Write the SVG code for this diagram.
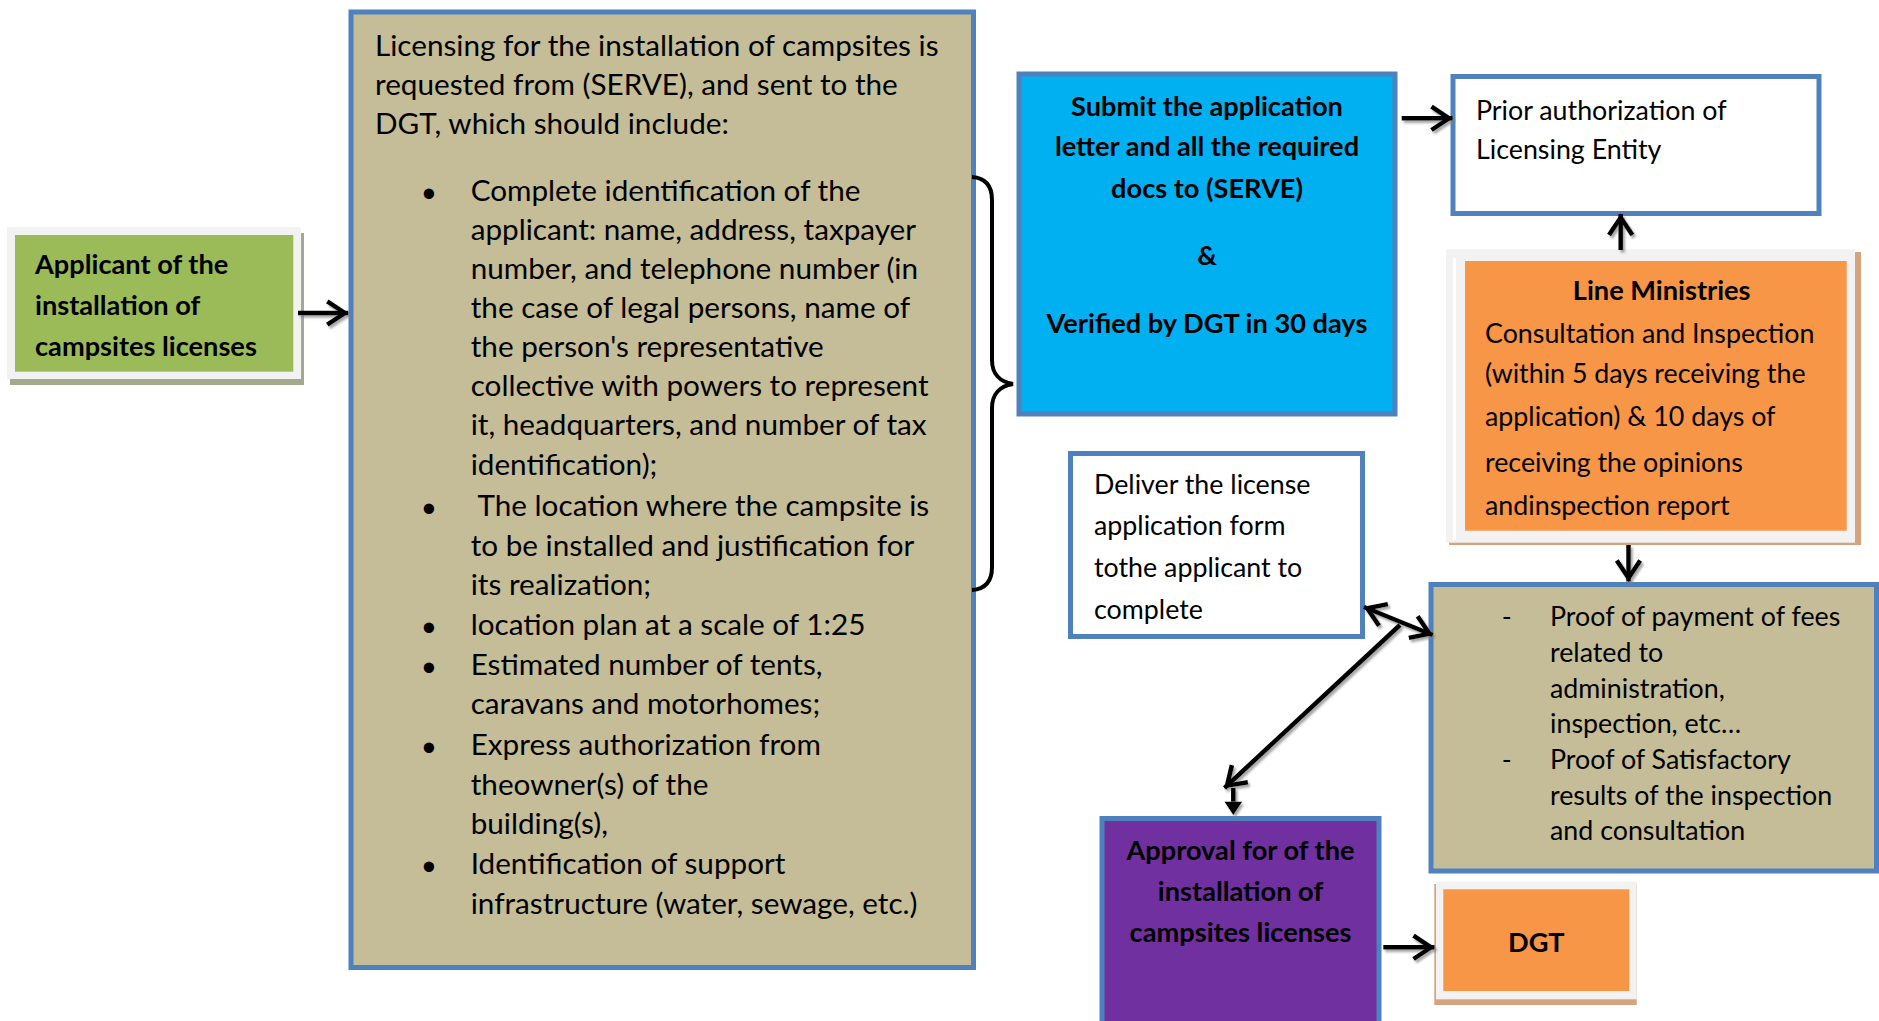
<svg xmlns="http://www.w3.org/2000/svg" width="1879" height="1021" viewBox="0 0 1879 1021">
<style>
.t{font-family:Lato,"Liberation Sans",sans-serif;fill:#000}
.b{font-weight:bold;font-size:27.2px}
.m{font-size:29.7px}
.s{font-size:26.8px}
.c{text-anchor:middle}
.bul{font-family:"Liberation Sans",sans-serif;font-size:38px;text-anchor:middle}
.box{stroke:#4f81bd;stroke-width:5}
.conn{fill:none;stroke:#000;stroke-width:4.5}
</style>
<defs>
<filter id="sh" x="-20%" y="-20%" width="140%" height="140%">
<feDropShadow dx="2" dy="2.5" stdDeviation="1.2" flood-color="#7f7f7f" flood-opacity="0.7"/>
</filter>
<marker id="chev" markerUnits="userSpaceOnUse" viewBox="-30 -16 34 32" markerWidth="34" markerHeight="32" refX="0" refY="0" orient="auto-start-reverse" overflow="visible">
<path d="M-21,-11.7 L-3.5,0 L-21,11.7" fill="none" stroke="#000" stroke-width="4.5"/>
</marker>
<marker id="tri" markerUnits="userSpaceOnUse" viewBox="-1 -10 16 20" markerWidth="16" markerHeight="20" refX="0" refY="0" orient="auto" overflow="visible">
<path d="M0,-8.8 L13.3,0 L0,8.8 Z" fill="#000"/>
</marker>
</defs>
<rect width="1879" height="1021" fill="#fff"/>

<g id="applicant">
<rect x="10" y="233" width="294" height="152" fill="#a3a98c"/>
<rect x="7" y="227" width="294" height="152" fill="#f2f2f2"/>
<rect x="15" y="235" width="278.3" height="136.7" fill="#9bbb59"/>
<text class="t b" x="35" y="274">Applicant of the</text>
<text class="t b" x="35" y="315">installation of</text>
<text class="t b" x="35" y="356">campsites licenses</text>
</g>

<g id="requirements">
<rect class="box" x="351" y="12" width="622.5" height="955.5" fill="#c4bd97"/>
<text class="t m" x="375" y="56">Licensing for the installation of campsites is</text>
<text class="t m" x="375" y="95">requested from (SERVE), and sent to the</text>
<text class="t m" x="375" y="134">DGT, which should include:</text>
<text class="bul" x="429" y="207">•</text>
<text class="t m" x="470.7" y="201">Complete identification of the</text>
<text class="t m" x="470.7" y="240">applicant: name, address, taxpayer</text>
<text class="t m" x="470.7" y="279">number, and telephone number (in</text>
<text class="t m" x="470.7" y="318">the case of legal persons, name of</text>
<text class="t m" x="470.7" y="357">the person's representative</text>
<text class="t m" x="470.7" y="396">collective with powers to represent</text>
<text class="t m" x="470.7" y="435">it, headquarters, and number of tax</text>
<text class="t m" x="470.7" y="475">identification);</text>
<text class="bul" x="429" y="522">•</text>
<text class="t m" x="477.5" y="516">The location where the campsite is</text>
<text class="t m" x="470.7" y="555.5">to be installed and justification for</text>
<text class="t m" x="470.7" y="594.5">its realization;</text>
<text class="bul" x="429" y="641">•</text>
<text class="t m" x="470.7" y="635">location plan at a scale of 1:25</text>
<text class="bul" x="429" y="681">•</text>
<text class="t m" x="470.7" y="675">Estimated number of tents,</text>
<text class="t m" x="470.7" y="714">caravans and motorhomes;</text>
<text class="bul" x="429" y="761">•</text>
<text class="t m" x="470.7" y="755">Express authorization from</text>
<text class="t m" x="470.7" y="794.5">theowner(s) of the</text>
<text class="t m" x="470.7" y="833.5">building(s),</text>
<text class="bul" x="429" y="880">•</text>
<text class="t m" x="470.7" y="874">Identification of support</text>
<text class="t m" x="470.7" y="913.5">infrastructure (water, sewage, etc.)</text>
</g>

<g id="brace">
<path d="M972,177 C986,178 992,186 992,200 L992,360 C992,374 1000,382 1013,384 C1000,386 992,394 992,408 L992,567 C992,581 986,589 972,590" fill="none" stroke="#000" stroke-width="4"/>
</g>

<g id="submit">
<rect class="box" x="1019" y="74" width="376" height="340" fill="#00b0f0"/>
<text class="t b c" x="1207" y="115.5">Submit the application</text>
<text class="t b c" x="1207" y="156">letter and all the required</text>
<text class="t b c" x="1207" y="197.5">docs to (SERVE)</text>
<text class="t b c" x="1207" y="265">&amp;</text>
<text class="t b c" x="1207" y="332.5">Verified by DGT in 30 days</text>
</g>

<g id="prior">
<rect class="box" x="1453" y="76.5" width="366" height="137" fill="#fff"/>
<text class="t s" x="1476" y="119.5">Prior authorization of</text>
<text class="t s" x="1476" y="158.5">Licensing Entity</text>
</g>

<g id="ministries">
<rect x="1449" y="252" width="412" height="293" fill="#d5a47f"/>
<rect x="1446" y="249.3" width="409" height="293.4" fill="#f2f2f2"/>
<rect x="1453" y="258" width="3" height="282" fill="#fff"/>
<rect x="1465" y="261" width="381.7" height="269.7" fill="#f79646"/>
<text class="t b c" x="1661.7" y="300">Line Ministries</text>
<text class="t s" x="1485" y="342.5">Consultation and Inspection</text>
<text class="t s" x="1485" y="382.5">(within 5 days receiving the</text>
<text class="t s" x="1485" y="426">application) &amp; 10 days of</text>
<text class="t s" x="1485" y="471.5">receiving the opinions</text>
<text class="t s" x="1485" y="515">andinspection report</text>
</g>

<g id="deliver">
<rect class="box" x="1070.5" y="453.5" width="292" height="183" fill="#fff"/>
<text class="t s" x="1094" y="494">Deliver the license</text>
<text class="t s" x="1094" y="535">application form</text>
<text class="t s" x="1094" y="577">tothe applicant to</text>
<text class="t s" x="1094" y="618.5">complete</text>
</g>

<g id="proofs">
<rect class="box" x="1431" y="584.5" width="445.5" height="286.5" fill="#c4bd97"/>
<text class="t s" x="1501.7" y="626">-</text>
<text class="t s" x="1550" y="626">Proof of payment of fees</text>
<text class="t s" x="1550" y="662">related to</text>
<text class="t s" x="1550" y="697.5">administration,</text>
<text class="t s" x="1550" y="732.5">inspection, etc…</text>
<text class="t s" x="1501.7" y="769">-</text>
<text class="t s" x="1550" y="769">Proof of Satisfactory</text>
<text class="t s" x="1550" y="805">results of the inspection</text>
<text class="t s" x="1550" y="840">and consultation</text>
</g>

<g id="approval">
<rect class="box" x="1102" y="818.5" width="277" height="212" fill="#7030a0"/>
<text class="t b c" x="1240.5" y="860">Approval for of the</text>
<text class="t b c" x="1240.5" y="901">installation of</text>
<text class="t b c" x="1240.5" y="942">campsites licenses</text>
</g>

<g id="dgt">
<rect x="1434.3" y="884" width="202.4" height="121" fill="#d5a47f"/>
<rect x="1436" y="881.7" width="200.7" height="117.6" fill="#f2f2f2"/>
<rect x="1443.3" y="889.3" width="186" height="101.7" fill="#f79646"/>
<text class="t b c" x="1536.3" y="952">DGT</text>
</g>

<g id="connectors" filter="url(#sh)">
<line class="conn" x1="298" y1="313" x2="348.3" y2="313" marker-end="url(#chev)"/>
<line class="conn" x1="1401.7" y1="118.3" x2="1452.5" y2="118.3" marker-end="url(#chev)"/>
<line class="conn" x1="1620.7" y1="250" x2="1620.7" y2="214" marker-end="url(#chev)"/>
<line class="conn" x1="1628.5" y1="545" x2="1628.5" y2="581.5" marker-end="url(#chev)"/>
<line class="conn" x1="1364" y1="607" x2="1432.7" y2="635" stroke-width="4" marker-start="url(#chev)" marker-end="url(#chev)"/>
<line class="conn" x1="1400" y1="625" x2="1224.5" y2="788" stroke-width="3.5" marker-end="url(#chev)"/>
<line class="conn" x1="1233.3" y1="788" x2="1233.3" y2="801.7" stroke-width="4" marker-end="url(#tri)"/>
<line class="conn" x1="1383.3" y1="947.3" x2="1434.5" y2="947.3" marker-end="url(#chev)"/>
</g>
</svg>
